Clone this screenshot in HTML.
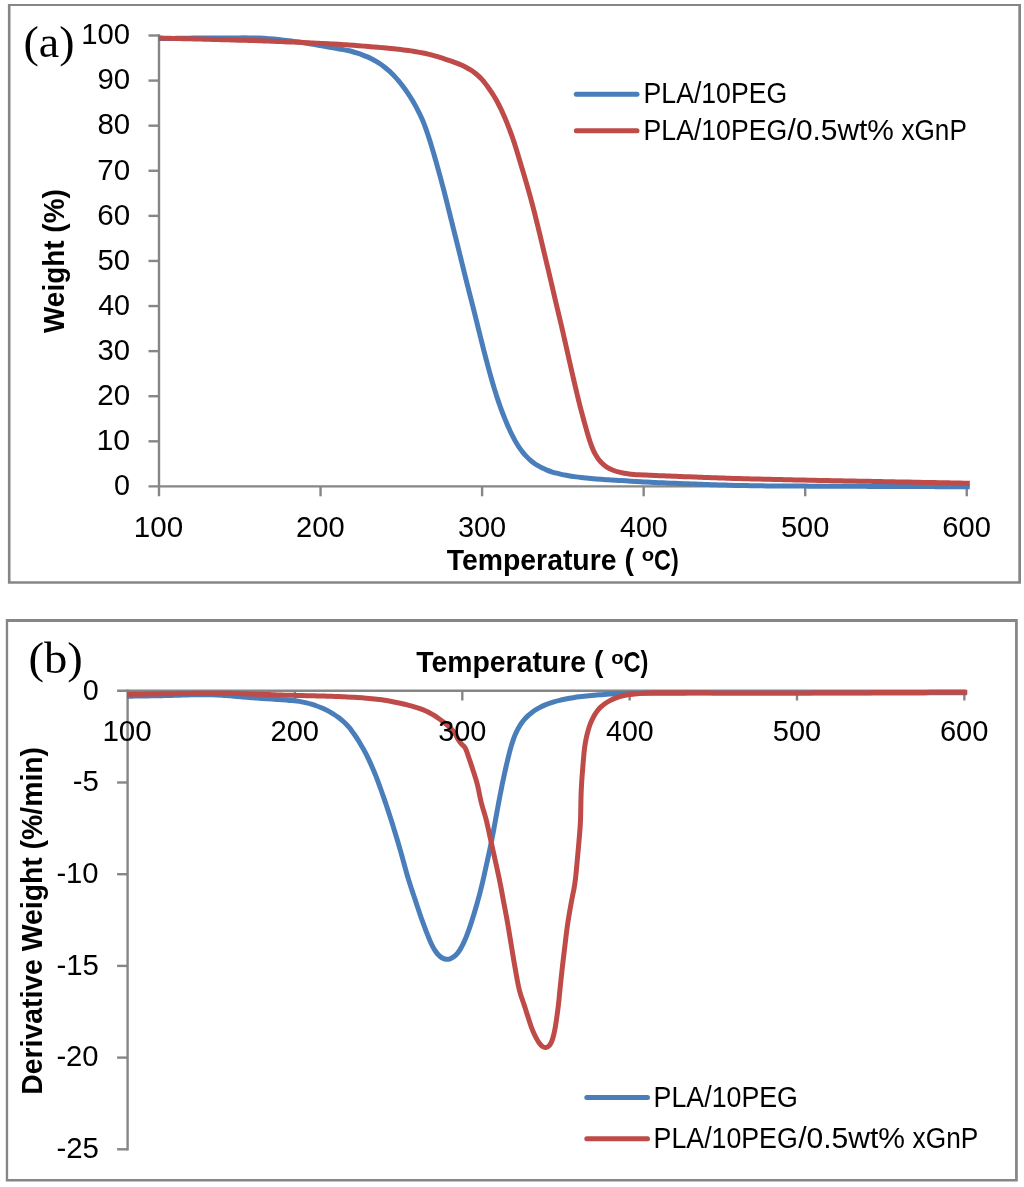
<!DOCTYPE html>
<html lang="en"><head><meta charset="utf-8"><title>TGA / DTG curves</title>
<style>html,body{margin:0;padding:0;background:#fff}body{width:1024px;height:1187px;overflow:hidden;font-family:"Liberation Sans",sans-serif}svg{display:block;will-change:transform;transform:translateZ(0)}text{fill:#000}</style></head><body>
<svg width="1024" height="1187" viewBox="0 0 1024 1187">
<rect x="0" y="0" width="1024" height="1187" fill="#fff"/>
<!-- chart (a) -->
<path fill="#868686" d="M7.9 4H1021V583.75H7.9Z M10.5 5.95V581.25H1018.3V5.95Z" fill-rule="evenodd"/>
<g stroke="#868686" stroke-width="2.4" fill="none">
<path d="M159.00 34.30 V496.30"/>
<path d="M148.50 486.40 H967.80"/>
<path d="M148.50 441.31 H159.00"/>
<path d="M148.50 396.22 H159.00"/>
<path d="M148.50 351.13 H159.00"/>
<path d="M148.50 306.04 H159.00"/>
<path d="M148.50 260.95 H159.00"/>
<path d="M148.50 215.86 H159.00"/>
<path d="M148.50 170.77 H159.00"/>
<path d="M148.50 125.68 H159.00"/>
<path d="M148.50 80.59 H159.00"/>
<path d="M148.50 35.50 H159.00"/>
<path d="M320.55 486.40 V496.30"/>
<path d="M482.10 486.40 V496.30"/>
<path d="M643.65 486.40 V496.30"/>
<path d="M805.20 486.40 V496.30"/>
<path d="M966.75 486.40 V496.30"/>
</g>
<path d="M158.80 38.60 C159.63 38.59 162.13 38.57 163.80 38.55 C165.47 38.54 167.13 38.52 168.80 38.49 C170.47 38.47 172.13 38.45 173.80 38.42 C175.47 38.39 177.13 38.36 178.80 38.32 C180.46 38.29 182.13 38.26 183.80 38.23 C185.46 38.20 187.13 38.17 188.80 38.14 C190.46 38.11 192.13 38.09 193.80 38.07 C195.46 38.05 197.13 38.03 198.80 38.01 C200.46 38.00 202.13 37.99 203.79 37.98 C205.46 37.97 207.13 37.96 208.79 37.95 C210.46 37.94 212.13 37.94 213.79 37.93 C215.46 37.92 217.13 37.92 218.79 37.92 C220.46 37.91 222.13 37.91 223.79 37.91 C225.46 37.90 227.13 37.90 228.79 37.90 C230.46 37.89 232.13 37.89 233.80 37.89 C235.46 37.88 237.13 37.88 238.80 37.88 C240.46 37.87 242.13 37.87 243.80 37.87 C245.46 37.87 247.13 37.87 248.80 37.88 C250.46 37.89 252.13 37.91 253.80 37.94 C255.46 37.97 257.13 38.01 258.79 38.07 C260.46 38.14 262.12 38.22 263.78 38.32 C265.45 38.42 267.11 38.54 268.77 38.67 C270.43 38.80 272.09 38.95 273.75 39.10 C275.41 39.26 277.07 39.43 278.73 39.60 C280.38 39.78 282.04 39.96 283.70 40.15 C285.35 40.34 287.01 40.54 288.66 40.75 C290.31 40.95 291.97 41.17 293.62 41.39 C295.27 41.62 296.92 41.85 298.57 42.09 C300.22 42.33 301.87 42.57 303.52 42.82 C305.16 43.07 306.81 43.33 308.46 43.59 C310.10 43.85 311.75 44.12 313.39 44.39 C315.04 44.67 316.68 44.95 318.32 45.23 C319.96 45.51 321.60 45.80 323.25 46.09 C324.89 46.38 326.53 46.68 328.17 46.97 C329.81 47.27 331.45 47.56 333.09 47.85 C334.74 48.13 336.38 48.41 338.02 48.70 C339.66 48.99 341.31 49.27 342.95 49.58 C344.58 49.89 346.22 50.20 347.84 50.56 C349.47 50.92 351.09 51.31 352.70 51.74 C354.30 52.17 355.90 52.64 357.49 53.15 C359.07 53.66 360.65 54.21 362.21 54.80 C363.77 55.38 365.32 56.00 366.85 56.66 C368.38 57.32 369.89 58.02 371.38 58.77 C372.87 59.51 374.34 60.30 375.77 61.14 C377.21 61.98 378.61 62.87 379.99 63.80 C381.37 64.74 382.71 65.72 384.03 66.74 C385.35 67.76 386.63 68.82 387.89 69.92 C389.14 71.01 390.37 72.15 391.57 73.30 C392.76 74.46 393.93 75.65 395.07 76.87 C396.21 78.09 397.32 79.33 398.40 80.60 C399.48 81.87 400.53 83.17 401.55 84.48 C402.58 85.79 403.58 87.13 404.55 88.48 C405.53 89.83 406.48 91.20 407.42 92.58 C408.35 93.96 409.26 95.36 410.15 96.77 C411.04 98.18 411.91 99.60 412.76 101.04 C413.61 102.47 414.44 103.92 415.25 105.37 C416.06 106.83 416.85 108.30 417.62 109.78 C418.38 111.26 419.13 112.75 419.85 114.25 C420.57 115.76 421.26 117.27 421.93 118.80 C422.60 120.32 423.24 121.86 423.85 123.41 C424.47 124.96 425.05 126.52 425.62 128.08 C426.19 129.65 426.73 131.23 427.26 132.80 C427.79 134.38 428.31 135.97 428.82 137.56 C429.33 139.14 429.83 140.73 430.33 142.33 C430.82 143.92 431.31 145.51 431.80 147.11 C432.28 148.70 432.76 150.30 433.23 151.90 C433.70 153.49 434.17 155.10 434.63 156.70 C435.09 158.30 435.55 159.90 436.00 161.51 C436.45 163.11 436.90 164.71 437.35 166.32 C437.79 167.93 438.24 169.53 438.68 171.14 C439.12 172.75 439.56 174.35 440.00 175.96 C440.44 177.57 440.87 179.18 441.30 180.79 C441.74 182.40 442.17 184.01 442.59 185.62 C443.02 187.23 443.44 188.84 443.86 190.46 C444.28 192.07 444.70 193.68 445.11 195.30 C445.52 196.91 445.93 198.53 446.34 200.15 C446.74 201.76 447.14 203.38 447.55 205.00 C447.95 206.61 448.35 208.23 448.75 209.85 C449.15 211.47 449.54 213.09 449.94 214.70 C450.34 216.32 450.75 217.94 451.15 219.56 C451.55 221.18 451.95 222.79 452.36 224.41 C452.76 226.03 453.16 227.64 453.57 229.26 C453.97 230.88 454.38 232.49 454.78 234.11 C455.19 235.73 455.59 237.34 456.00 238.96 C456.40 240.58 456.81 242.19 457.21 243.81 C457.61 245.43 458.01 247.05 458.41 248.66 C458.82 250.28 459.21 251.90 459.61 253.52 C460.01 255.14 460.41 256.76 460.80 258.37 C461.20 259.99 461.60 261.61 461.99 263.23 C462.39 264.85 462.78 266.47 463.18 268.09 C463.58 269.71 463.97 271.33 464.38 272.94 C464.78 274.56 465.18 276.18 465.58 277.80 C465.99 279.41 466.39 281.03 466.80 282.64 C467.21 284.26 467.62 285.87 468.04 287.49 C468.45 289.10 468.86 290.72 469.27 292.33 C469.69 293.95 470.10 295.56 470.51 297.18 C470.92 298.79 471.34 300.41 471.75 302.02 C472.16 303.64 472.56 305.25 472.97 306.87 C473.38 308.49 473.78 310.10 474.19 311.72 C474.59 313.34 475.00 314.95 475.40 316.57 C475.80 318.19 476.21 319.81 476.61 321.42 C477.01 323.04 477.41 324.66 477.81 326.28 C478.21 327.89 478.61 329.51 479.01 331.13 C479.42 332.75 479.81 334.37 480.21 335.98 C480.62 337.60 481.02 339.22 481.42 340.84 C481.82 342.45 482.22 344.07 482.63 345.69 C483.04 347.30 483.44 348.92 483.86 350.53 C484.27 352.15 484.68 353.76 485.10 355.38 C485.52 356.99 485.94 358.60 486.36 360.22 C486.78 361.83 487.21 363.44 487.64 365.05 C488.07 366.66 488.51 368.27 488.94 369.88 C489.38 371.48 489.82 373.09 490.27 374.70 C490.72 376.30 491.17 377.91 491.63 379.51 C492.09 381.11 492.56 382.71 493.03 384.31 C493.51 385.91 493.98 387.50 494.47 389.10 C494.96 390.69 495.45 392.28 495.96 393.87 C496.46 395.46 496.97 397.05 497.49 398.63 C498.01 400.21 498.54 401.79 499.09 403.37 C499.63 404.94 500.19 406.52 500.75 408.08 C501.32 409.65 501.90 411.21 502.50 412.77 C503.09 414.33 503.69 415.88 504.31 417.43 C504.93 418.98 505.56 420.52 506.20 422.06 C506.85 423.60 507.50 425.13 508.17 426.66 C508.85 428.18 509.53 429.71 510.24 431.21 C510.95 432.72 511.67 434.23 512.43 435.71 C513.18 437.20 513.96 438.68 514.78 440.13 C515.59 441.59 516.43 443.03 517.31 444.45 C518.19 445.86 519.10 447.26 520.06 448.62 C521.02 449.98 522.02 451.32 523.07 452.61 C524.12 453.90 525.22 455.16 526.37 456.36 C527.51 457.56 528.71 458.72 529.96 459.82 C531.21 460.91 532.51 461.96 533.84 462.95 C535.18 463.93 536.57 464.86 537.99 465.71 C539.41 466.57 540.87 467.37 542.36 468.10 C543.85 468.83 545.38 469.50 546.93 470.11 C548.48 470.72 550.05 471.27 551.64 471.78 C553.23 472.29 554.83 472.74 556.45 473.16 C558.06 473.59 559.69 473.97 561.31 474.33 C562.94 474.69 564.58 475.02 566.22 475.33 C567.86 475.63 569.50 475.91 571.15 476.17 C572.80 476.43 574.45 476.66 576.10 476.88 C577.75 477.10 579.41 477.30 581.07 477.48 C582.72 477.67 584.38 477.84 586.04 478.01 C587.70 478.18 589.36 478.33 591.02 478.48 C592.68 478.64 594.34 478.78 596.00 478.92 C597.66 479.06 599.32 479.19 600.98 479.31 C602.65 479.44 604.31 479.55 605.97 479.66 C607.63 479.77 609.30 479.87 610.96 479.97 C612.63 480.07 614.29 480.16 615.95 480.26 C617.62 480.35 619.28 480.44 620.95 480.54 C622.61 480.64 624.27 480.73 625.94 480.84 C627.60 480.94 629.26 481.04 630.93 481.14 C632.59 481.25 634.25 481.35 635.92 481.46 C637.58 481.56 639.24 481.66 640.91 481.76 C642.57 481.85 644.24 481.95 645.90 482.04 C647.57 482.12 649.23 482.21 650.89 482.29 C652.56 482.37 654.22 482.45 655.89 482.52 C657.55 482.60 659.22 482.67 660.88 482.74 C662.55 482.81 664.21 482.88 665.88 482.95 C667.54 483.02 669.21 483.09 670.88 483.16 C672.54 483.23 674.21 483.29 675.87 483.36 C677.54 483.43 679.20 483.49 680.87 483.56 C682.53 483.62 684.20 483.68 685.86 483.75 C687.53 483.81 689.19 483.87 690.86 483.93 C692.53 483.99 694.19 484.05 695.86 484.11 C697.52 484.17 699.19 484.22 700.85 484.28 C702.52 484.34 704.19 484.40 705.85 484.46 C707.52 484.51 709.18 484.57 710.85 484.63 C712.51 484.69 714.18 484.74 715.85 484.80 C717.51 484.86 719.18 484.91 720.84 484.97 C722.51 485.02 724.17 485.07 725.84 485.12 C727.51 485.17 729.17 485.22 730.84 485.27 C732.50 485.31 734.17 485.35 735.84 485.39 C737.50 485.43 739.17 485.47 740.84 485.51 C742.50 485.54 744.17 485.57 745.83 485.60 C747.50 485.63 749.17 485.66 750.83 485.69 C752.50 485.71 754.17 485.74 755.83 485.76 C757.50 485.78 759.17 485.80 760.83 485.82 C762.50 485.84 764.17 485.86 765.83 485.88 C767.50 485.89 769.17 485.91 770.83 485.92 C772.50 485.94 774.17 485.95 775.83 485.96 C777.50 485.97 779.17 485.98 780.83 486.00 C782.50 486.01 784.17 486.02 785.83 486.03 C787.50 486.04 789.16 486.04 790.83 486.05 C792.50 486.06 794.16 486.07 795.83 486.08 C797.50 486.09 799.16 486.09 800.83 486.10 C802.50 486.11 804.16 486.12 805.83 486.12 C807.50 486.13 809.16 486.14 810.83 486.14 C812.50 486.15 814.16 486.16 815.83 486.16 C817.50 486.17 819.16 486.18 820.83 486.18 C822.50 486.19 824.16 486.19 825.83 486.20 C827.50 486.21 829.16 486.21 830.83 486.22 C832.50 486.23 834.16 486.23 835.83 486.24 C837.50 486.25 839.16 486.25 840.83 486.26 C842.50 486.27 844.16 486.27 845.83 486.28 C847.50 486.29 849.16 486.30 850.83 486.30 C852.50 486.31 854.16 486.32 855.83 486.33 C857.50 486.33 859.16 486.34 860.83 486.35 C862.50 486.35 864.16 486.36 865.83 486.37 C867.50 486.38 869.16 486.38 870.83 486.39 C872.50 486.40 874.16 486.40 875.83 486.41 C877.50 486.42 879.16 486.42 880.83 486.43 C882.50 486.44 884.16 486.44 885.83 486.45 C887.50 486.46 889.16 486.46 890.83 486.47 C892.50 486.47 894.16 486.48 895.83 486.49 C897.50 486.49 899.16 486.50 900.83 486.50 C902.50 486.51 904.16 486.52 905.83 486.52 C907.50 486.53 909.16 486.54 910.83 486.54 C912.50 486.55 914.16 486.55 915.83 486.56 C917.50 486.57 919.16 486.57 920.83 486.58 C922.50 486.58 924.16 486.59 925.83 486.59 C927.50 486.60 929.16 486.61 930.83 486.61 C932.50 486.62 934.16 486.62 935.83 486.63 C937.50 486.64 939.16 486.64 940.83 486.65 C942.50 486.65 944.16 486.66 945.83 486.66 C947.50 486.67 949.16 486.68 950.83 486.68 C952.50 486.69 954.16 486.69 955.83 486.70 C957.50 486.71 959.16 486.71 960.83 486.72 C962.50 486.72 964.34 486.73 965.83 486.74 C967.33 486.74 969.14 486.75 969.80 486.75" fill="none" stroke="#4a7ebb" stroke-width="5.0" stroke-linejoin="round" stroke-linecap="butt"/>
<path d="M158.80 38.00 C159.63 38.02 162.13 38.08 163.80 38.13 C165.46 38.17 167.13 38.21 168.80 38.25 C170.46 38.30 172.13 38.34 173.80 38.38 C175.46 38.42 177.13 38.47 178.79 38.51 C180.46 38.55 182.13 38.59 183.79 38.64 C185.46 38.68 187.12 38.72 188.79 38.77 C190.46 38.81 192.12 38.86 193.79 38.90 C195.45 38.94 197.12 38.99 198.79 39.03 C200.45 39.08 202.12 39.12 203.78 39.17 C205.45 39.21 207.12 39.26 208.78 39.30 C210.45 39.35 212.12 39.39 213.78 39.44 C215.45 39.48 217.11 39.53 218.78 39.58 C220.45 39.62 222.11 39.67 223.78 39.71 C225.44 39.76 227.11 39.81 228.78 39.86 C230.44 39.90 232.11 39.95 233.77 40.00 C235.44 40.04 237.11 40.09 238.77 40.14 C240.44 40.18 242.10 40.23 243.77 40.28 C245.44 40.33 247.10 40.38 248.77 40.43 C250.43 40.48 252.10 40.54 253.76 40.59 C255.43 40.64 257.10 40.70 258.76 40.76 C260.43 40.81 262.09 40.87 263.76 40.93 C265.42 40.99 267.09 41.05 268.76 41.11 C270.42 41.17 272.09 41.23 273.75 41.29 C275.42 41.36 277.08 41.42 278.75 41.49 C280.41 41.55 282.08 41.62 283.74 41.68 C285.41 41.75 287.08 41.82 288.74 41.89 C290.41 41.96 292.07 42.04 293.74 42.11 C295.40 42.19 297.07 42.26 298.73 42.34 C300.40 42.42 302.06 42.50 303.72 42.57 C305.39 42.65 307.05 42.73 308.72 42.81 C310.38 42.89 312.05 42.97 313.71 43.05 C315.38 43.13 317.04 43.21 318.71 43.29 C320.37 43.37 322.04 43.46 323.70 43.54 C325.37 43.63 327.03 43.71 328.69 43.80 C330.36 43.89 332.02 43.98 333.69 44.07 C335.35 44.17 337.01 44.26 338.68 44.36 C340.34 44.46 342.01 44.57 343.67 44.68 C345.33 44.78 347.00 44.89 348.66 45.01 C350.32 45.12 351.98 45.24 353.65 45.36 C355.31 45.48 356.97 45.61 358.63 45.74 C360.29 45.86 361.95 45.99 363.62 46.12 C365.28 46.26 366.94 46.39 368.60 46.53 C370.26 46.66 371.92 46.80 373.58 46.94 C375.24 47.08 376.90 47.23 378.56 47.38 C380.22 47.52 381.88 47.67 383.54 47.83 C385.20 47.98 386.86 48.13 388.52 48.30 C390.18 48.46 391.84 48.62 393.50 48.79 C395.15 48.96 396.81 49.14 398.47 49.32 C400.13 49.51 401.78 49.70 403.44 49.90 C405.09 50.10 406.74 50.31 408.39 50.54 C410.05 50.77 411.70 51.01 413.34 51.27 C414.99 51.53 416.63 51.80 418.27 52.10 C419.91 52.40 421.55 52.71 423.18 53.05 C424.81 53.39 426.44 53.75 428.06 54.14 C429.68 54.52 431.30 54.93 432.91 55.36 C434.51 55.80 436.12 56.25 437.71 56.73 C439.31 57.20 440.90 57.70 442.49 58.21 C444.08 58.72 445.66 59.24 447.24 59.77 C448.82 60.30 450.40 60.84 451.97 61.40 C453.54 61.96 455.11 62.53 456.67 63.14 C458.22 63.74 459.77 64.36 461.29 65.04 C462.82 65.71 464.33 66.42 465.81 67.19 C467.28 67.95 468.74 68.77 470.15 69.65 C471.56 70.53 472.95 71.46 474.27 72.46 C475.60 73.46 476.89 74.52 478.13 75.63 C479.36 76.75 480.54 77.92 481.67 79.14 C482.80 80.36 483.87 81.64 484.91 82.94 C485.96 84.24 486.95 85.58 487.92 86.94 C488.90 88.29 489.84 89.67 490.76 91.06 C491.69 92.45 492.59 93.85 493.46 95.27 C494.33 96.69 495.18 98.13 496.00 99.58 C496.82 101.03 497.61 102.50 498.38 103.98 C499.15 105.45 499.89 106.95 500.61 108.45 C501.33 109.95 502.04 111.46 502.72 112.98 C503.41 114.50 504.08 116.03 504.73 117.56 C505.39 119.09 506.02 120.63 506.65 122.18 C507.28 123.72 507.89 125.27 508.49 126.83 C509.09 128.38 509.68 129.94 510.26 131.50 C510.85 133.06 511.42 134.63 511.98 136.20 C512.53 137.77 513.09 139.34 513.62 140.92 C514.16 142.50 514.68 144.08 515.19 145.67 C515.70 147.25 516.20 148.85 516.68 150.44 C517.17 152.03 517.64 153.63 518.12 155.23 C518.59 156.83 519.06 158.43 519.53 160.02 C520.01 161.62 520.49 163.22 520.96 164.82 C521.44 166.41 521.93 168.01 522.41 169.60 C522.89 171.20 523.37 172.79 523.85 174.39 C524.33 175.99 524.80 177.58 525.28 179.18 C525.75 180.78 526.21 182.38 526.68 183.98 C527.14 185.58 527.60 187.19 528.06 188.79 C528.51 190.39 528.96 192.00 529.41 193.60 C529.86 195.21 530.30 196.81 530.74 198.42 C531.17 200.03 531.61 201.64 532.03 203.25 C532.46 204.86 532.88 206.47 533.30 208.09 C533.72 209.70 534.13 211.32 534.54 212.93 C534.95 214.55 535.35 216.16 535.75 217.78 C536.16 219.40 536.56 221.02 536.95 222.64 C537.35 224.25 537.75 225.87 538.14 227.49 C538.54 229.11 538.93 230.73 539.32 232.35 C539.71 233.97 540.10 235.59 540.49 237.21 C540.87 238.84 541.26 240.46 541.64 242.08 C542.03 243.70 542.41 245.32 542.80 246.94 C543.18 248.57 543.56 250.19 543.95 251.81 C544.33 253.43 544.72 255.05 545.10 256.67 C545.49 258.30 545.88 259.92 546.26 261.54 C546.65 263.16 547.04 264.78 547.42 266.40 C547.81 268.02 548.20 269.64 548.58 271.26 C548.97 272.89 549.36 274.51 549.74 276.13 C550.13 277.75 550.51 279.37 550.89 280.99 C551.27 282.62 551.65 284.24 552.03 285.86 C552.41 287.49 552.78 289.11 553.16 290.73 C553.54 292.36 553.91 293.98 554.28 295.61 C554.66 297.23 555.04 298.85 555.42 300.48 C555.80 302.10 556.18 303.72 556.56 305.34 C556.95 306.96 557.34 308.59 557.72 310.21 C558.11 311.83 558.50 313.45 558.89 315.07 C559.28 316.69 559.67 318.31 560.05 319.93 C560.44 321.55 560.82 323.18 561.20 324.80 C561.58 326.42 561.95 328.05 562.32 329.67 C562.70 331.29 563.07 332.92 563.44 334.54 C563.81 336.17 564.18 337.79 564.54 339.42 C564.91 341.05 565.28 342.67 565.65 344.30 C566.01 345.92 566.38 347.55 566.75 349.17 C567.12 350.80 567.48 352.43 567.85 354.05 C568.22 355.68 568.59 357.30 568.95 358.93 C569.32 360.55 569.69 362.18 570.05 363.81 C570.42 365.43 570.79 367.06 571.16 368.68 C571.53 370.31 571.90 371.93 572.27 373.56 C572.64 375.18 573.01 376.81 573.39 378.43 C573.76 380.05 574.14 381.68 574.52 383.30 C574.90 384.92 575.28 386.55 575.67 388.17 C576.05 389.79 576.43 391.41 576.82 393.03 C577.21 394.65 577.60 396.27 577.99 397.89 C578.39 399.51 578.79 401.13 579.19 402.75 C579.59 404.36 580.00 405.98 580.42 407.59 C580.83 409.21 581.26 410.82 581.69 412.43 C582.11 414.04 582.55 415.65 582.98 417.26 C583.42 418.87 583.86 420.48 584.30 422.08 C584.74 423.69 585.19 425.30 585.64 426.90 C586.09 428.51 586.54 430.11 587.00 431.71 C587.46 433.32 587.93 434.92 588.42 436.51 C588.90 438.11 589.40 439.70 589.92 441.29 C590.45 442.87 590.98 444.45 591.58 446.01 C592.17 447.57 592.79 449.13 593.48 450.64 C594.18 452.16 594.92 453.66 595.76 455.10 C596.59 456.54 597.49 457.95 598.49 459.27 C599.50 460.59 600.59 461.85 601.77 463.01 C602.95 464.16 604.23 465.23 605.57 466.19 C606.92 467.14 608.36 468.00 609.83 468.76 C611.31 469.51 612.85 470.16 614.41 470.74 C615.97 471.31 617.58 471.78 619.19 472.20 C620.81 472.61 622.45 472.94 624.09 473.22 C625.73 473.51 627.39 473.73 629.05 473.92 C630.71 474.12 632.37 474.26 634.03 474.40 C635.69 474.53 637.36 474.63 639.02 474.73 C640.69 474.83 642.36 474.91 644.02 474.99 C645.69 475.07 647.35 475.15 649.02 475.22 C650.68 475.29 652.35 475.37 654.01 475.44 C655.68 475.51 657.34 475.58 659.01 475.65 C660.67 475.72 662.34 475.79 664.00 475.86 C665.67 475.93 667.33 476.00 669.00 476.07 C670.66 476.13 672.33 476.20 674.00 476.27 C675.66 476.33 677.33 476.40 678.99 476.46 C680.66 476.53 682.32 476.59 683.99 476.66 C685.65 476.72 687.32 476.78 688.98 476.85 C690.65 476.91 692.32 476.97 693.98 477.03 C695.65 477.09 697.31 477.15 698.98 477.21 C700.64 477.27 702.31 477.33 703.97 477.39 C705.64 477.45 707.31 477.51 708.97 477.57 C710.64 477.63 712.30 477.69 713.97 477.75 C715.63 477.81 717.30 477.87 718.96 477.93 C720.63 477.99 722.30 478.04 723.96 478.10 C725.63 478.16 727.29 478.21 728.96 478.26 C730.62 478.32 732.29 478.37 733.96 478.42 C735.62 478.47 737.29 478.52 738.95 478.57 C740.62 478.62 742.29 478.66 743.95 478.71 C745.62 478.76 747.28 478.80 748.95 478.84 C750.62 478.89 752.28 478.93 753.95 478.97 C755.61 479.02 757.28 479.06 758.95 479.10 C760.61 479.14 762.28 479.18 763.95 479.22 C765.61 479.26 767.28 479.29 768.94 479.33 C770.61 479.37 772.28 479.41 773.94 479.45 C775.61 479.48 777.28 479.52 778.94 479.56 C780.61 479.59 782.27 479.63 783.94 479.66 C785.61 479.70 787.27 479.73 788.94 479.77 C790.61 479.81 792.27 479.84 793.94 479.88 C795.60 479.91 797.27 479.94 798.94 479.98 C800.60 480.01 802.27 480.05 803.94 480.08 C805.60 480.12 807.27 480.15 808.94 480.18 C810.60 480.22 812.27 480.25 813.93 480.28 C815.60 480.32 817.27 480.35 818.93 480.38 C820.60 480.42 822.27 480.45 823.93 480.48 C825.60 480.52 827.27 480.55 828.93 480.58 C830.60 480.62 832.26 480.65 833.93 480.68 C835.60 480.72 837.26 480.75 838.93 480.78 C840.60 480.81 842.26 480.85 843.93 480.88 C845.59 480.91 847.26 480.95 848.93 480.98 C850.59 481.01 852.26 481.04 853.93 481.08 C855.59 481.11 857.26 481.14 858.93 481.17 C860.59 481.21 862.26 481.24 863.92 481.27 C865.59 481.30 867.26 481.34 868.92 481.37 C870.59 481.40 872.26 481.43 873.92 481.46 C875.59 481.49 877.26 481.53 878.92 481.56 C880.59 481.59 882.25 481.62 883.92 481.65 C885.59 481.68 887.25 481.72 888.92 481.75 C890.59 481.78 892.25 481.81 893.92 481.84 C895.59 481.87 897.25 481.90 898.92 481.93 C900.58 481.97 902.25 482.00 903.92 482.03 C905.58 482.06 907.25 482.09 908.92 482.12 C910.58 482.15 912.25 482.18 913.92 482.21 C915.58 482.25 917.25 482.28 918.91 482.31 C920.58 482.34 922.25 482.37 923.91 482.40 C925.58 482.43 927.25 482.46 928.91 482.49 C930.58 482.52 932.25 482.55 933.91 482.59 C935.58 482.62 937.25 482.65 938.91 482.68 C940.58 482.71 942.24 482.74 943.91 482.77 C945.58 482.80 947.24 482.83 948.91 482.86 C950.58 482.89 952.24 482.92 953.91 482.95 C955.58 482.99 957.24 483.02 958.91 483.05 C960.57 483.08 962.09 483.11 963.91 483.14 C965.72 483.17 968.82 483.23 969.80 483.25" fill="none" stroke="#be4b48" stroke-width="5.0" stroke-linejoin="round" stroke-linecap="butt"/>
<text x="114.05" y="495.20" font-family="'Liberation Sans', sans-serif" font-size="29.90px" font-weight="normal" text-anchor="start" textLength="15.99" lengthAdjust="spacingAndGlyphs">0</text>
<text x="96.43" y="450.11" font-family="'Liberation Sans', sans-serif" font-size="29.90px" font-weight="normal" text-anchor="start" textLength="33.70" lengthAdjust="spacingAndGlyphs">10</text>
<text x="97.22" y="405.02" font-family="'Liberation Sans', sans-serif" font-size="29.90px" font-weight="normal" text-anchor="start" textLength="32.88" lengthAdjust="spacingAndGlyphs">20</text>
<text x="97.53" y="359.93" font-family="'Liberation Sans', sans-serif" font-size="29.90px" font-weight="normal" text-anchor="start" textLength="32.56" lengthAdjust="spacingAndGlyphs">30</text>
<text x="98.13" y="314.84" font-family="'Liberation Sans', sans-serif" font-size="29.90px" font-weight="normal" text-anchor="start" textLength="31.95" lengthAdjust="spacingAndGlyphs">40</text>
<text x="97.53" y="269.75" font-family="'Liberation Sans', sans-serif" font-size="29.90px" font-weight="normal" text-anchor="start" textLength="32.56" lengthAdjust="spacingAndGlyphs">50</text>
<text x="97.22" y="224.66" font-family="'Liberation Sans', sans-serif" font-size="29.90px" font-weight="normal" text-anchor="start" textLength="32.88" lengthAdjust="spacingAndGlyphs">60</text>
<text x="97.22" y="179.57" font-family="'Liberation Sans', sans-serif" font-size="29.90px" font-weight="normal" text-anchor="start" textLength="32.88" lengthAdjust="spacingAndGlyphs">70</text>
<text x="97.38" y="134.48" font-family="'Liberation Sans', sans-serif" font-size="29.90px" font-weight="normal" text-anchor="start" textLength="32.72" lengthAdjust="spacingAndGlyphs">80</text>
<text x="97.38" y="89.39" font-family="'Liberation Sans', sans-serif" font-size="29.90px" font-weight="normal" text-anchor="start" textLength="32.72" lengthAdjust="spacingAndGlyphs">90</text>
<text x="81.31" y="44.30" font-family="'Liberation Sans', sans-serif" font-size="29.90px" font-weight="normal" text-anchor="start" textLength="48.82" lengthAdjust="spacingAndGlyphs">100</text>
<text x="133.78" y="536.50" font-family="'Liberation Sans', sans-serif" font-size="29.90px" font-weight="normal" text-anchor="start" textLength="49.36" lengthAdjust="spacingAndGlyphs">100</text>
<text x="296.09" y="536.50" font-family="'Liberation Sans', sans-serif" font-size="29.90px" font-weight="normal" text-anchor="start" textLength="48.58" lengthAdjust="spacingAndGlyphs">200</text>
<text x="457.94" y="536.50" font-family="'Liberation Sans', sans-serif" font-size="29.90px" font-weight="normal" text-anchor="start" textLength="48.27" lengthAdjust="spacingAndGlyphs">300</text>
<text x="620.08" y="536.50" font-family="'Liberation Sans', sans-serif" font-size="29.90px" font-weight="normal" text-anchor="start" textLength="47.67" lengthAdjust="spacingAndGlyphs">400</text>
<text x="781.04" y="536.50" font-family="'Liberation Sans', sans-serif" font-size="29.90px" font-weight="normal" text-anchor="start" textLength="48.27" lengthAdjust="spacingAndGlyphs">500</text>
<text x="942.29" y="536.50" font-family="'Liberation Sans', sans-serif" font-size="29.90px" font-weight="normal" text-anchor="start" textLength="48.58" lengthAdjust="spacingAndGlyphs">600</text>
<text x="446.72" y="569.70" font-family="'Liberation Sans', sans-serif" font-size="29.80px" font-weight="bold" text-anchor="start" textLength="187.16" lengthAdjust="spacingAndGlyphs">Temperature (</text>
<text x="641.69" y="561.20" font-family="'Liberation Sans', sans-serif" font-size="19.00px" font-weight="bold" text-anchor="start" textLength="12.39" lengthAdjust="spacingAndGlyphs">o</text>
<text x="654.07" y="569.70" font-family="'Liberation Sans', sans-serif" font-size="29.80px" font-weight="bold" text-anchor="start" textLength="24.60" lengthAdjust="spacingAndGlyphs">C)</text>
<g transform="translate(64.3 333.0) rotate(-90)"><text x="0.00" y="0.00" font-family="'Liberation Sans', sans-serif" font-size="29.80px" font-weight="bold" text-anchor="start" textLength="143.83" lengthAdjust="spacingAndGlyphs">Weight (%)</text></g>
<text x="23.53" y="56.50" font-family="'Liberation Serif', sans-serif" font-size="44.50px" font-weight="normal" text-anchor="start" textLength="51.03" lengthAdjust="spacingAndGlyphs">(a)</text>
<g fill="none" stroke-width="5" stroke-linecap="round">
<path d="M576.3 94.3 H637" stroke="#4a7ebb"/>
<path d="M576.3 130.8 H637" stroke="#be4b48"/>
</g>
<text x="643.62" y="103.30" font-family="'Liberation Sans', sans-serif" font-size="29.90px" font-weight="normal" text-anchor="start" textLength="143.50" lengthAdjust="spacingAndGlyphs">PLA/10PEG</text>
<text x="643.62" y="139.50" font-family="'Liberation Sans', sans-serif" font-size="29.90px" font-weight="normal" text-anchor="start" textLength="143.50" lengthAdjust="spacingAndGlyphs">PLA/10PEG</text>
<text x="787.60" y="139.50" font-family="'Liberation Sans', sans-serif" font-size="29.90px" font-weight="normal" text-anchor="start" textLength="106.36" lengthAdjust="spacingAndGlyphs">/0.5wt%</text>
<text x="901.49" y="139.50" font-family="'Liberation Sans', sans-serif" font-size="29.90px" font-weight="normal" text-anchor="start" textLength="65.34" lengthAdjust="spacingAndGlyphs">xGnP</text>
<!-- chart (b) -->
<path fill="#868686" d="M5.8 619.1H1017.8V1181.6H5.8Z M8.15 621.9V1178.9H1015.05V621.9Z" fill-rule="evenodd"/>
<g stroke="#868686" stroke-width="2.4" fill="none">
<path d="M127.60 689.60 V1150.50"/>
<path d="M117.10 690.80 H965.60"/>
<path d="M117.10 782.50 H127.60"/>
<path d="M117.10 874.20 H127.60"/>
<path d="M117.10 965.90 H127.60"/>
<path d="M117.10 1057.60 H127.60"/>
<path d="M117.10 1149.30 H127.60"/>
<path d="M294.95 690.80 V700.50"/>
<path d="M462.30 690.80 V700.50"/>
<path d="M629.65 690.80 V700.50"/>
<path d="M797.00 690.80 V700.50"/>
<path d="M964.35 690.80 V700.50"/>
</g>
<path d="M127.00 696.20 C127.83 696.19 130.33 696.16 132.00 696.13 C133.67 696.11 135.33 696.09 137.00 696.07 C138.67 696.04 140.33 696.02 142.00 696.00 C143.67 695.97 145.33 695.95 147.00 695.93 C148.66 695.90 150.33 695.87 152.00 695.85 C153.66 695.82 155.33 695.79 157.00 695.75 C158.66 695.72 160.33 695.68 162.00 695.65 C163.66 695.61 165.33 695.56 166.99 695.52 C168.66 695.48 170.33 695.43 171.99 695.38 C173.66 695.33 175.32 695.28 176.99 695.23 C178.66 695.19 180.32 695.14 181.99 695.09 C183.65 695.04 185.32 695.00 186.99 694.96 C188.65 694.92 190.32 694.88 191.99 694.85 C193.65 694.82 195.32 694.79 196.98 694.76 C198.65 694.74 200.32 694.72 201.98 694.71 C203.65 694.70 205.32 694.69 206.98 694.70 C208.65 694.71 210.32 694.73 211.98 694.76 C213.65 694.79 215.32 694.84 216.98 694.91 C218.65 694.97 220.31 695.06 221.97 695.16 C223.64 695.26 225.30 695.38 226.96 695.51 C228.62 695.64 230.28 695.80 231.94 695.95 C233.60 696.10 235.26 696.26 236.92 696.42 C238.58 696.57 240.24 696.73 241.90 696.89 C243.56 697.04 245.22 697.18 246.88 697.32 C248.54 697.46 250.20 697.59 251.86 697.72 C253.52 697.85 255.18 697.97 256.85 698.09 C258.51 698.21 260.17 698.32 261.83 698.44 C263.50 698.55 265.16 698.66 266.82 698.77 C268.49 698.89 270.15 699.00 271.81 699.10 C273.48 699.21 275.14 699.32 276.80 699.43 C278.47 699.53 280.13 699.64 281.80 699.75 C283.46 699.86 285.12 699.97 286.79 700.10 C288.45 700.23 290.11 700.35 291.77 700.52 C293.43 700.68 295.09 700.85 296.74 701.08 C298.39 701.30 300.04 701.55 301.67 701.85 C303.31 702.15 304.94 702.49 306.56 702.88 C308.18 703.27 309.79 703.70 311.38 704.18 C312.98 704.65 314.57 705.17 316.14 705.73 C317.70 706.29 319.26 706.89 320.80 707.53 C322.34 708.18 323.86 708.86 325.35 709.59 C326.85 710.33 328.32 711.10 329.78 711.92 C331.23 712.74 332.66 713.61 334.06 714.51 C335.46 715.41 336.84 716.36 338.18 717.35 C339.52 718.33 340.83 719.36 342.10 720.44 C343.36 721.51 344.59 722.64 345.76 723.81 C346.93 724.98 348.05 726.21 349.13 727.48 C350.20 728.74 351.22 730.06 352.22 731.39 C353.21 732.72 354.16 734.10 355.10 735.48 C356.03 736.86 356.94 738.27 357.83 739.68 C358.72 741.09 359.59 742.52 360.44 743.95 C361.30 745.38 362.13 746.83 362.95 748.28 C363.76 749.73 364.56 751.20 365.33 752.67 C366.11 754.15 366.86 755.64 367.59 757.13 C368.33 758.63 369.04 760.14 369.74 761.65 C370.44 763.16 371.12 764.68 371.79 766.21 C372.46 767.74 373.12 769.27 373.76 770.81 C374.40 772.34 375.03 773.89 375.65 775.44 C376.26 776.98 376.87 778.54 377.46 780.10 C378.05 781.65 378.63 783.22 379.20 784.78 C379.78 786.35 380.34 787.92 380.90 789.49 C381.45 791.06 382.00 792.63 382.55 794.21 C383.10 795.78 383.64 797.36 384.18 798.93 C384.72 800.51 385.26 802.09 385.80 803.66 C386.33 805.24 386.87 806.82 387.39 808.40 C387.92 809.98 388.45 811.57 388.96 813.15 C389.48 814.73 390.00 816.32 390.51 817.91 C391.01 819.49 391.52 821.08 392.02 822.67 C392.52 824.26 393.01 825.85 393.50 827.45 C393.99 829.04 394.48 830.63 394.96 832.23 C395.45 833.82 395.93 835.42 396.41 837.01 C396.89 838.61 397.37 840.21 397.84 841.81 C398.31 843.40 398.78 845.00 399.25 846.60 C399.71 848.20 400.18 849.80 400.64 851.41 C401.09 853.01 401.54 854.61 401.99 856.22 C402.44 857.83 402.87 859.43 403.31 861.04 C403.75 862.65 404.18 864.26 404.62 865.87 C405.06 867.48 405.49 869.09 405.94 870.69 C406.39 872.30 406.84 873.90 407.31 875.50 C407.77 877.10 408.26 878.69 408.75 880.29 C409.24 881.88 409.75 883.46 410.26 885.05 C410.77 886.64 411.29 888.22 411.82 889.80 C412.34 891.38 412.87 892.96 413.40 894.54 C413.93 896.12 414.46 897.70 414.99 899.29 C415.51 900.87 416.04 902.45 416.56 904.03 C417.09 905.61 417.61 907.20 418.13 908.78 C418.66 910.36 419.19 911.94 419.72 913.52 C420.26 915.10 420.81 916.67 421.36 918.24 C421.92 919.81 422.48 921.38 423.05 922.95 C423.62 924.52 424.21 926.08 424.79 927.64 C425.38 929.21 425.97 930.77 426.57 932.33 C427.18 933.90 427.78 935.46 428.42 937.02 C429.06 938.58 429.70 940.14 430.40 941.69 C431.09 943.24 431.81 944.79 432.61 946.30 C433.40 947.81 434.24 949.34 435.18 950.74 C436.12 952.14 437.14 953.55 438.26 954.71 C439.38 955.87 440.62 956.97 441.91 957.71 C443.20 958.46 444.61 959.00 446.00 959.18 C447.38 959.35 448.85 959.20 450.21 958.76 C451.58 958.33 452.94 957.52 454.17 956.58 C455.40 955.64 456.55 954.39 457.60 953.11 C458.65 951.83 459.59 950.36 460.47 948.90 C461.35 947.45 462.13 945.90 462.89 944.38 C463.64 942.85 464.32 941.29 464.99 939.73 C465.66 938.18 466.28 936.61 466.89 935.05 C467.50 933.48 468.08 931.91 468.65 930.34 C469.21 928.77 469.76 927.19 470.29 925.61 C470.83 924.03 471.35 922.44 471.86 920.86 C472.37 919.27 472.87 917.68 473.36 916.08 C473.85 914.49 474.33 912.89 474.80 911.30 C475.28 909.70 475.74 908.10 476.20 906.50 C476.66 904.89 477.12 903.29 477.57 901.68 C478.01 900.08 478.45 898.47 478.89 896.86 C479.32 895.25 479.75 893.64 480.16 892.03 C480.58 890.41 480.99 888.80 481.39 887.18 C481.78 885.56 482.17 883.94 482.55 882.32 C482.93 880.70 483.30 879.07 483.66 877.44 C484.03 875.82 484.39 874.19 484.75 872.56 C485.11 870.94 485.46 869.31 485.82 867.68 C486.18 866.05 486.53 864.42 486.89 862.80 C487.25 861.17 487.62 859.54 487.97 857.91 C488.33 856.29 488.70 854.66 489.05 853.03 C489.41 851.40 489.76 849.77 490.11 848.14 C490.45 846.51 490.79 844.88 491.12 843.25 C491.45 841.61 491.78 839.98 492.09 838.34 C492.41 836.71 492.72 835.07 493.02 833.43 C493.33 831.79 493.63 830.15 493.93 828.51 C494.23 826.87 494.52 825.23 494.82 823.59 C495.12 821.95 495.42 820.31 495.72 818.68 C496.02 817.04 496.32 815.40 496.62 813.76 C496.92 812.12 497.22 810.48 497.53 808.84 C497.83 807.20 498.14 805.56 498.44 803.92 C498.75 802.29 499.06 800.65 499.37 799.01 C499.68 797.37 499.99 795.74 500.30 794.10 C500.62 792.46 500.94 790.83 501.26 789.19 C501.58 787.56 501.91 785.92 502.24 784.29 C502.58 782.66 502.92 781.02 503.26 779.39 C503.60 777.76 503.95 776.13 504.31 774.50 C504.66 772.88 505.02 771.25 505.39 769.62 C505.75 768.00 506.12 766.37 506.50 764.75 C506.88 763.12 507.26 761.50 507.65 759.88 C508.04 758.26 508.43 756.64 508.84 755.02 C509.25 753.40 509.66 751.79 510.10 750.17 C510.53 748.56 510.98 746.95 511.45 745.35 C511.93 743.76 512.42 742.16 512.96 740.58 C513.50 739.00 514.07 737.43 514.69 735.89 C515.32 734.34 515.98 732.81 516.71 731.31 C517.43 729.82 518.21 728.34 519.06 726.91 C519.90 725.47 520.81 724.07 521.78 722.73 C522.75 721.38 523.79 720.08 524.89 718.84 C525.99 717.61 527.17 716.43 528.39 715.31 C529.62 714.20 530.92 713.15 532.25 712.16 C533.58 711.17 534.98 710.25 536.40 709.38 C537.82 708.52 539.28 707.71 540.77 706.96 C542.25 706.21 543.78 705.51 545.31 704.87 C546.85 704.22 548.41 703.63 549.98 703.09 C551.56 702.54 553.15 702.04 554.75 701.58 C556.35 701.12 557.97 700.70 559.59 700.31 C561.21 699.92 562.84 699.56 564.48 699.23 C566.11 698.89 567.75 698.58 569.39 698.30 C571.04 698.01 572.68 697.75 574.33 697.50 C575.98 697.26 577.63 697.04 579.29 696.83 C580.94 696.62 582.60 696.43 584.25 696.25 C585.91 696.06 587.57 695.89 589.23 695.73 C590.89 695.57 592.55 695.41 594.21 695.26 C595.87 695.11 597.53 694.97 599.19 694.83 C600.85 694.70 602.51 694.57 604.17 694.44 C605.84 694.32 607.50 694.20 609.16 694.10 C610.83 693.99 612.49 693.90 614.15 693.82 C615.82 693.73 617.48 693.66 619.15 693.60 C620.81 693.54 622.48 693.50 624.15 693.46 C625.81 693.42 627.48 693.39 629.14 693.37 C630.81 693.34 632.48 693.32 634.14 693.30 C635.81 693.29 637.48 693.27 639.14 693.26 C640.81 693.25 642.48 693.24 644.14 693.23 C645.81 693.22 647.48 693.21 649.14 693.20 C650.81 693.20 652.48 693.19 654.14 693.19 C655.81 693.18 657.48 693.18 659.14 693.17 C660.81 693.17 662.48 693.16 664.14 693.16 C665.81 693.16 667.48 693.15 669.14 693.15 C670.81 693.15 672.48 693.14 674.14 693.14 C675.81 693.14 677.48 693.14 679.14 693.13 C680.81 693.13 682.48 693.13 684.14 693.13 C685.81 693.12 687.48 693.12 689.14 693.12 C690.81 693.12 692.48 693.11 694.14 693.11 C695.81 693.11 697.48 693.10 699.14 693.10 C700.81 693.10 702.48 693.10 704.14 693.09 C705.81 693.09 707.48 693.09 709.14 693.09 C710.81 693.08 712.48 693.08 714.14 693.08 C715.81 693.08 717.48 693.08 719.14 693.07 C720.81 693.07 722.48 693.07 724.14 693.07 C725.81 693.07 727.48 693.07 729.14 693.07 C730.81 693.06 732.48 693.06 734.14 693.06 C735.81 693.06 737.48 693.06 739.14 693.06 C740.81 693.06 742.48 693.06 744.14 693.06 C745.81 693.06 747.48 693.05 749.14 693.05 C750.81 693.05 752.48 693.05 754.14 693.05 C755.81 693.05 757.48 693.05 759.14 693.05 C760.81 693.05 762.48 693.05 764.14 693.05 C765.81 693.05 767.48 693.05 769.14 693.04 C770.81 693.04 772.48 693.04 774.14 693.04 C775.81 693.04 777.48 693.04 779.14 693.04 C780.81 693.04 782.48 693.04 784.14 693.04 C785.81 693.04 787.48 693.04 789.14 693.04 C790.81 693.04 792.48 693.04 794.14 693.04 C795.81 693.03 797.48 693.03 799.14 693.03 C800.81 693.03 802.48 693.03 804.14 693.03 C805.81 693.03 807.48 693.03 809.14 693.03 C810.81 693.03 812.48 693.03 814.14 693.03 C815.81 693.03 817.48 693.03 819.14 693.02 C820.81 693.02 822.48 693.02 824.14 693.02 C825.81 693.02 827.48 693.02 829.14 693.02 C830.81 693.02 832.48 693.02 834.14 693.01 C835.81 693.01 837.48 693.01 839.14 693.01 C840.81 693.01 842.48 693.01 844.14 693.01 C845.81 693.00 847.48 693.00 849.14 693.00 C850.81 693.00 852.48 693.00 854.14 693.00 C855.81 692.99 857.48 692.99 859.14 692.99 C860.81 692.99 862.48 692.98 864.14 692.98 C865.81 692.98 867.48 692.98 869.14 692.98 C870.81 692.97 872.48 692.97 874.14 692.97 C875.81 692.97 877.48 692.96 879.14 692.96 C880.81 692.96 882.48 692.96 884.14 692.95 C885.81 692.95 887.48 692.95 889.14 692.94 C890.81 692.94 892.48 692.94 894.14 692.94 C895.81 692.93 897.48 692.93 899.14 692.93 C900.81 692.92 902.48 692.92 904.14 692.92 C905.81 692.92 907.48 692.91 909.14 692.91 C910.81 692.91 912.48 692.90 914.14 692.90 C915.81 692.90 917.48 692.89 919.14 692.89 C920.81 692.89 922.48 692.88 924.14 692.88 C925.81 692.88 927.48 692.88 929.14 692.87 C930.81 692.87 932.48 692.87 934.14 692.86 C935.81 692.86 937.48 692.86 939.14 692.85 C940.81 692.85 942.48 692.85 944.14 692.84 C945.81 692.84 947.48 692.84 949.14 692.83 C950.81 692.83 952.48 692.83 954.14 692.82 C955.81 692.82 957.03 692.82 959.14 692.81 C961.25 692.81 965.52 692.80 966.80 692.80" fill="none" stroke="#4a7ebb" stroke-width="5.0" stroke-linejoin="round" stroke-linecap="butt"/>
<path d="M127.00 694.40 C127.83 694.39 130.33 694.34 132.00 694.31 C133.67 694.29 135.33 694.26 137.00 694.23 C138.66 694.20 140.33 694.17 142.00 694.14 C143.66 694.11 145.33 694.08 147.00 694.05 C148.66 694.03 150.33 694.00 152.00 693.97 C153.66 693.94 155.33 693.92 157.00 693.89 C158.66 693.86 160.33 693.84 162.00 693.81 C163.66 693.79 165.33 693.76 166.99 693.74 C168.66 693.72 170.33 693.70 171.99 693.67 C173.66 693.65 175.33 693.63 176.99 693.60 C178.66 693.58 180.33 693.55 181.99 693.53 C183.66 693.50 185.33 693.48 186.99 693.45 C188.66 693.43 190.33 693.40 191.99 693.38 C193.66 693.36 195.32 693.34 196.99 693.31 C198.66 693.29 200.32 693.27 201.99 693.26 C203.66 693.24 205.32 693.23 206.99 693.21 C208.66 693.20 210.32 693.19 211.99 693.19 C213.66 693.18 215.32 693.18 216.99 693.19 C218.66 693.19 220.32 693.20 221.99 693.22 C223.66 693.24 225.32 693.26 226.99 693.29 C228.66 693.32 230.32 693.35 231.99 693.39 C233.66 693.43 235.32 693.48 236.99 693.52 C238.65 693.57 240.32 693.63 241.98 693.68 C243.65 693.74 245.32 693.80 246.98 693.85 C248.65 693.91 250.31 693.97 251.98 694.03 C253.64 694.09 255.31 694.15 256.98 694.20 C258.64 694.26 260.31 694.31 261.97 694.36 C263.64 694.42 265.30 694.47 266.97 694.53 C268.64 694.58 270.30 694.64 271.97 694.70 C273.63 694.76 275.30 694.82 276.96 694.88 C278.63 694.94 280.30 695.00 281.96 695.05 C283.63 695.11 285.29 695.16 286.96 695.21 C288.62 695.26 290.29 695.31 291.96 695.35 C293.62 695.40 295.29 695.44 296.96 695.47 C298.62 695.51 300.29 695.55 301.95 695.58 C303.62 695.62 305.29 695.65 306.95 695.69 C308.62 695.72 310.29 695.76 311.95 695.79 C313.62 695.83 315.28 695.86 316.95 695.90 C318.62 695.94 320.28 695.98 321.95 696.02 C323.62 696.06 325.28 696.10 326.95 696.15 C328.61 696.19 330.28 696.24 331.95 696.30 C333.61 696.35 335.28 696.41 336.94 696.47 C338.61 696.54 340.27 696.61 341.94 696.69 C343.60 696.76 345.27 696.85 346.93 696.93 C348.60 697.02 350.26 697.11 351.92 697.20 C353.59 697.30 355.25 697.39 356.92 697.50 C358.58 697.61 360.24 697.72 361.90 697.84 C363.57 697.96 365.23 698.08 366.89 698.22 C368.55 698.36 370.21 698.50 371.87 698.66 C373.53 698.82 375.19 698.99 376.84 699.18 C378.50 699.37 380.15 699.57 381.80 699.80 C383.45 700.04 385.10 700.29 386.74 700.57 C388.39 700.84 390.03 701.14 391.66 701.46 C393.30 701.77 394.93 702.11 396.56 702.45 C398.20 702.79 399.83 703.14 401.45 703.50 C403.08 703.87 404.71 704.23 406.32 704.63 C407.94 705.03 409.55 705.45 411.16 705.91 C412.76 706.36 414.36 706.85 415.94 707.36 C417.53 707.87 419.11 708.40 420.68 708.97 C422.24 709.55 423.80 710.14 425.33 710.80 C426.86 711.46 428.36 712.18 429.83 712.95 C431.31 713.73 432.74 714.58 434.15 715.46 C435.57 716.34 436.95 717.28 438.32 718.23 C439.69 719.18 441.04 720.16 442.38 721.16 C443.71 722.15 445.06 723.14 446.34 724.20 C447.62 725.27 448.88 726.37 450.04 727.56 C451.20 728.75 452.30 730.02 453.30 731.34 C454.30 732.67 455.19 734.09 456.05 735.51 C456.90 736.94 457.54 738.51 458.43 739.91 C459.31 741.31 460.30 742.65 461.37 743.90 C462.44 745.15 463.94 746.07 464.86 747.41 C465.78 748.76 466.29 750.41 466.89 751.96 C467.49 753.50 467.94 755.12 468.48 756.70 C469.01 758.28 469.56 759.85 470.10 761.43 C470.64 763.01 471.17 764.59 471.69 766.17 C472.21 767.75 472.73 769.34 473.24 770.92 C473.76 772.51 474.27 774.09 474.77 775.68 C475.28 777.27 475.80 778.85 476.26 780.45 C476.72 782.05 477.16 783.66 477.56 785.28 C477.96 786.90 478.30 788.53 478.64 790.16 C478.98 791.79 479.29 793.43 479.62 795.07 C479.96 796.70 480.29 798.33 480.67 799.95 C481.05 801.58 481.45 803.19 481.89 804.80 C482.32 806.41 482.80 808.01 483.27 809.61 C483.74 811.21 484.23 812.80 484.69 814.40 C485.15 816.00 485.61 817.60 486.03 819.22 C486.45 820.83 486.84 822.45 487.22 824.07 C487.61 825.69 487.96 827.32 488.32 828.95 C488.68 830.58 489.03 832.21 489.38 833.84 C489.73 835.47 490.08 837.10 490.43 838.72 C490.78 840.35 491.14 841.98 491.50 843.61 C491.86 845.24 492.22 846.86 492.58 848.49 C492.95 850.12 493.31 851.74 493.67 853.37 C494.04 855.00 494.40 856.62 494.76 858.25 C495.12 859.88 495.48 861.50 495.84 863.13 C496.20 864.76 496.56 866.39 496.92 868.02 C497.27 869.64 497.63 871.27 497.98 872.90 C498.34 874.53 498.69 876.16 499.03 877.79 C499.37 879.42 499.71 881.05 500.03 882.69 C500.36 884.32 500.67 885.96 500.99 887.60 C501.30 889.23 501.60 890.87 501.91 892.51 C502.21 894.15 502.51 895.79 502.81 897.43 C503.12 899.07 503.42 900.71 503.73 902.34 C504.03 903.98 504.34 905.62 504.65 907.26 C504.97 908.89 505.28 910.53 505.59 912.17 C505.90 913.81 506.21 915.44 506.51 917.08 C506.82 918.72 507.12 920.36 507.41 922.00 C507.70 923.64 507.98 925.28 508.26 926.93 C508.54 928.57 508.82 930.21 509.09 931.86 C509.36 933.50 509.63 935.15 509.90 936.79 C510.17 938.44 510.44 940.08 510.71 941.73 C510.98 943.37 511.25 945.02 511.52 946.66 C511.79 948.30 512.06 949.95 512.33 951.59 C512.60 953.24 512.86 954.88 513.14 956.53 C513.41 958.17 513.68 959.82 513.96 961.46 C514.24 963.10 514.53 964.74 514.82 966.39 C515.10 968.03 515.39 969.67 515.69 971.31 C515.98 972.95 516.27 974.59 516.56 976.23 C516.86 977.87 517.15 979.51 517.46 981.15 C517.78 982.79 518.08 984.43 518.43 986.06 C518.78 987.69 519.14 989.32 519.57 990.92 C520.00 992.53 520.48 994.13 520.99 995.71 C521.50 997.30 522.08 998.86 522.62 1000.44 C523.16 1002.01 523.71 1003.59 524.24 1005.17 C524.77 1006.75 525.27 1008.34 525.78 1009.92 C526.29 1011.51 526.79 1013.10 527.29 1014.69 C527.79 1016.28 528.29 1017.87 528.80 1019.46 C529.31 1021.05 529.81 1022.64 530.35 1024.21 C530.89 1025.79 531.44 1027.37 532.04 1028.92 C532.64 1030.48 533.27 1032.02 533.97 1033.54 C534.67 1035.06 535.41 1036.57 536.23 1038.06 C537.05 1039.54 537.90 1041.11 538.89 1042.47 C539.87 1043.84 540.94 1045.40 542.12 1046.24 C543.30 1047.09 544.74 1047.71 545.97 1047.55 C547.20 1047.39 548.51 1046.41 549.50 1045.30 C550.49 1044.19 551.24 1042.45 551.90 1040.90 C552.55 1039.35 552.98 1037.63 553.42 1035.99 C553.87 1034.35 554.22 1032.71 554.56 1031.07 C554.90 1029.42 555.20 1027.78 555.48 1026.14 C555.77 1024.50 556.01 1022.85 556.25 1021.20 C556.50 1019.55 556.72 1017.90 556.94 1016.25 C557.17 1014.59 557.39 1012.94 557.61 1011.29 C557.83 1009.64 558.04 1007.98 558.24 1006.33 C558.44 1004.67 558.63 1003.02 558.81 1001.36 C558.98 999.70 559.13 998.04 559.29 996.39 C559.46 994.73 559.61 993.07 559.77 991.41 C559.93 989.75 560.10 988.09 560.27 986.43 C560.45 984.78 560.62 983.12 560.80 981.46 C560.98 979.80 561.16 978.15 561.34 976.49 C561.52 974.83 561.70 973.18 561.88 971.52 C562.07 969.86 562.25 968.21 562.44 966.55 C562.63 964.90 562.82 963.24 563.01 961.58 C563.20 959.93 563.40 958.27 563.59 956.62 C563.79 954.96 563.99 953.31 564.19 951.65 C564.39 950.00 564.59 948.35 564.79 946.69 C564.99 945.04 565.19 943.38 565.39 941.73 C565.58 940.07 565.77 938.42 565.97 936.76 C566.17 935.11 566.37 933.45 566.58 931.80 C566.79 930.14 567.01 928.49 567.24 926.84 C567.47 925.19 567.72 923.54 567.97 921.90 C568.22 920.25 568.49 918.60 568.76 916.96 C569.03 915.31 569.31 913.67 569.59 912.03 C569.87 910.38 570.15 908.74 570.44 907.10 C570.72 905.46 571.02 903.82 571.32 902.18 C571.63 900.54 571.95 898.90 572.27 897.27 C572.59 895.63 572.94 894.00 573.26 892.37 C573.58 890.73 573.91 889.10 574.19 887.46 C574.48 885.82 574.75 884.17 574.98 882.52 C575.22 880.87 575.42 879.22 575.61 877.56 C575.80 875.91 575.97 874.25 576.13 872.59 C576.30 870.93 576.44 869.27 576.59 867.61 C576.75 865.95 576.89 864.29 577.04 862.63 C577.19 860.97 577.34 859.31 577.49 857.65 C577.64 855.99 577.80 854.33 577.95 852.67 C578.10 851.01 578.26 849.35 578.41 847.69 C578.56 846.03 578.71 844.37 578.85 842.71 C579.00 841.05 579.14 839.39 579.28 837.73 C579.42 836.07 579.56 834.41 579.70 832.75 C579.83 831.09 579.97 829.42 580.08 827.76 C580.19 826.10 580.29 824.44 580.38 822.77 C580.46 821.11 580.52 819.44 580.57 817.78 C580.63 816.11 580.66 814.44 580.70 812.78 C580.73 811.11 580.76 809.44 580.79 807.78 C580.82 806.11 580.85 804.44 580.88 802.78 C580.92 801.11 580.95 799.45 580.99 797.78 C581.04 796.11 581.08 794.45 581.14 792.78 C581.21 791.12 581.28 789.45 581.36 787.79 C581.44 786.12 581.54 784.46 581.64 782.79 C581.75 781.13 581.86 779.47 581.98 777.81 C582.10 776.14 582.23 774.48 582.36 772.82 C582.49 771.16 582.63 769.50 582.76 767.84 C582.89 766.18 583.03 764.51 583.17 762.85 C583.30 761.19 583.43 759.53 583.57 757.87 C583.72 756.21 583.86 754.55 584.03 752.89 C584.20 751.23 584.37 749.57 584.59 747.92 C584.81 746.27 585.06 744.62 585.34 742.98 C585.62 741.34 585.93 739.70 586.28 738.07 C586.63 736.44 587.00 734.81 587.42 733.20 C587.84 731.59 588.28 729.98 588.77 728.38 C589.27 726.79 589.80 725.21 590.40 723.66 C591.01 722.11 591.66 720.57 592.40 719.07 C593.13 717.58 593.92 716.10 594.80 714.69 C595.67 713.27 596.60 711.87 597.63 710.57 C598.66 709.26 599.76 708.00 600.96 706.86 C602.16 705.72 603.46 704.67 604.81 703.71 C606.16 702.74 607.61 701.89 609.07 701.08 C610.52 700.27 612.03 699.53 613.55 698.85 C615.07 698.17 616.62 697.55 618.20 697.03 C619.78 696.50 621.39 696.07 623.01 695.70 C624.63 695.33 626.28 695.06 627.93 694.81 C629.58 694.56 631.24 694.38 632.90 694.21 C634.55 694.03 636.21 693.89 637.88 693.74 C639.54 693.60 641.20 693.45 642.86 693.33 C644.52 693.21 646.18 693.08 647.85 693.00 C649.51 692.91 651.18 692.86 652.84 692.81 C654.51 692.77 656.18 692.76 657.84 692.74 C659.51 692.72 661.18 692.72 662.84 692.71 C664.51 692.70 666.18 692.69 667.84 692.69 C669.51 692.69 671.18 692.69 672.84 692.69 C674.51 692.69 676.18 692.69 677.84 692.70 C679.51 692.70 681.18 692.71 682.84 692.72 C684.51 692.72 686.18 692.73 687.84 692.74 C689.51 692.75 691.18 692.76 692.84 692.77 C694.51 692.78 696.18 692.79 697.84 692.80 C699.51 692.81 701.18 692.82 702.84 692.83 C704.51 692.84 706.18 692.85 707.84 692.86 C709.51 692.87 711.17 692.88 712.84 692.88 C714.51 692.89 716.17 692.90 717.84 692.91 C719.51 692.92 721.17 692.93 722.84 692.93 C724.51 692.94 726.17 692.95 727.84 692.95 C729.51 692.96 731.17 692.97 732.84 692.97 C734.51 692.98 736.17 692.98 737.84 692.99 C739.51 692.99 741.17 692.99 742.84 693.00 C744.51 693.00 746.17 693.00 747.84 693.00 C749.51 693.01 751.17 693.01 752.84 693.01 C754.51 693.01 756.17 693.01 757.84 693.01 C759.51 693.01 761.17 693.01 762.84 693.01 C764.51 693.00 766.17 693.00 767.84 693.00 C769.51 693.00 771.17 692.99 772.84 692.99 C774.51 692.99 776.17 692.98 777.84 692.98 C779.51 692.98 781.17 692.97 782.84 692.97 C784.51 692.96 786.17 692.96 787.84 692.95 C789.51 692.95 791.17 692.94 792.84 692.94 C794.51 692.93 796.17 692.93 797.84 692.92 C799.51 692.92 801.17 692.91 802.84 692.90 C804.51 692.90 806.17 692.89 807.84 692.89 C809.51 692.88 811.17 692.88 812.84 692.87 C814.51 692.86 816.17 692.86 817.84 692.85 C819.51 692.84 821.17 692.84 822.84 692.83 C824.51 692.83 826.17 692.82 827.84 692.81 C829.51 692.81 831.17 692.80 832.84 692.79 C834.51 692.79 836.17 692.78 837.84 692.77 C839.51 692.77 841.17 692.76 842.84 692.75 C844.51 692.75 846.17 692.74 847.84 692.73 C849.51 692.72 851.17 692.72 852.84 692.71 C854.51 692.70 856.17 692.70 857.84 692.69 C859.51 692.68 861.17 692.67 862.84 692.67 C864.51 692.66 866.17 692.65 867.84 692.65 C869.51 692.64 871.17 692.63 872.84 692.62 C874.51 692.62 876.17 692.61 877.84 692.60 C879.51 692.59 881.17 692.59 882.84 692.58 C884.51 692.57 886.17 692.57 887.84 692.56 C889.51 692.55 891.17 692.54 892.84 692.54 C894.51 692.53 896.17 692.52 897.84 692.51 C899.51 692.51 901.17 692.50 902.84 692.49 C904.51 692.48 906.17 692.47 907.84 692.47 C909.51 692.46 911.17 692.45 912.84 692.44 C914.51 692.44 916.17 692.43 917.84 692.42 C919.51 692.41 921.17 692.41 922.84 692.40 C924.51 692.39 926.17 692.38 927.84 692.38 C929.51 692.37 931.17 692.36 932.84 692.35 C934.51 692.35 936.17 692.34 937.84 692.33 C939.51 692.32 941.17 692.31 942.84 692.31 C944.51 692.30 946.17 692.29 947.84 692.28 C949.51 692.28 951.17 692.27 952.84 692.26 C954.51 692.25 956.17 692.25 957.84 692.24 C959.51 692.23 961.26 692.23 962.84 692.22 C964.42 692.21 966.56 692.20 967.30 692.20" fill="none" stroke="#be4b48" stroke-width="5.0" stroke-linejoin="round" stroke-linecap="butt"/>
<text x="82.65" y="699.60" font-family="'Liberation Sans', sans-serif" font-size="29.90px" font-weight="normal" text-anchor="start" textLength="15.99" lengthAdjust="spacingAndGlyphs">0</text>
<text x="72.68" y="791.30" font-family="'Liberation Sans', sans-serif" font-size="29.90px" font-weight="normal" text-anchor="start" textLength="26.07" lengthAdjust="spacingAndGlyphs">-5</text>
<text x="56.38" y="883.00" font-family="'Liberation Sans', sans-serif" font-size="29.90px" font-weight="normal" text-anchor="start" textLength="42.25" lengthAdjust="spacingAndGlyphs">-10</text>
<text x="56.38" y="974.70" font-family="'Liberation Sans', sans-serif" font-size="29.90px" font-weight="normal" text-anchor="start" textLength="42.41" lengthAdjust="spacingAndGlyphs">-15</text>
<text x="56.38" y="1066.40" font-family="'Liberation Sans', sans-serif" font-size="29.90px" font-weight="normal" text-anchor="start" textLength="42.25" lengthAdjust="spacingAndGlyphs">-20</text>
<text x="56.38" y="1158.10" font-family="'Liberation Sans', sans-serif" font-size="29.90px" font-weight="normal" text-anchor="start" textLength="42.41" lengthAdjust="spacingAndGlyphs">-25</text>
<text x="102.38" y="741.30" font-family="'Liberation Sans', sans-serif" font-size="29.90px" font-weight="normal" text-anchor="start" textLength="49.36" lengthAdjust="spacingAndGlyphs">100</text>
<text x="270.49" y="741.30" font-family="'Liberation Sans', sans-serif" font-size="29.90px" font-weight="normal" text-anchor="start" textLength="48.58" lengthAdjust="spacingAndGlyphs">200</text>
<text x="438.14" y="741.30" font-family="'Liberation Sans', sans-serif" font-size="29.90px" font-weight="normal" text-anchor="start" textLength="48.27" lengthAdjust="spacingAndGlyphs">300</text>
<text x="606.08" y="741.30" font-family="'Liberation Sans', sans-serif" font-size="29.90px" font-weight="normal" text-anchor="start" textLength="47.67" lengthAdjust="spacingAndGlyphs">400</text>
<text x="772.84" y="741.30" font-family="'Liberation Sans', sans-serif" font-size="29.90px" font-weight="normal" text-anchor="start" textLength="48.27" lengthAdjust="spacingAndGlyphs">500</text>
<text x="939.89" y="741.30" font-family="'Liberation Sans', sans-serif" font-size="29.90px" font-weight="normal" text-anchor="start" textLength="48.58" lengthAdjust="spacingAndGlyphs">600</text>
<text x="416.22" y="672.40" font-family="'Liberation Sans', sans-serif" font-size="29.80px" font-weight="bold" text-anchor="start" textLength="187.16" lengthAdjust="spacingAndGlyphs">Temperature (</text>
<text x="611.19" y="663.90" font-family="'Liberation Sans', sans-serif" font-size="19.00px" font-weight="bold" text-anchor="start" textLength="12.39" lengthAdjust="spacingAndGlyphs">o</text>
<text x="623.55" y="672.40" font-family="'Liberation Sans', sans-serif" font-size="29.80px" font-weight="bold" text-anchor="start" textLength="24.93" lengthAdjust="spacingAndGlyphs">C)</text>
<g transform="translate(41.8 1092.9) rotate(-90)"><text x="-1.84" y="0.00" font-family="'Liberation Sans', sans-serif" font-size="29.80px" font-weight="bold" text-anchor="start" textLength="347.77" lengthAdjust="spacingAndGlyphs">Derivative Weight (%/min)</text></g>
<text x="28.41" y="673.00" font-family="'Liberation Serif', sans-serif" font-size="44.50px" font-weight="normal" text-anchor="start" textLength="54.26" lengthAdjust="spacingAndGlyphs">(b)</text>
<g fill="none" stroke-width="5" stroke-linecap="round">
<path d="M586.8 1097.5 H647.5" stroke="#4a7ebb"/>
<path d="M586.8 1138.8 H647.5" stroke="#be4b48"/>
</g>
<text x="653.61" y="1106.50" font-family="'Liberation Sans', sans-serif" font-size="29.90px" font-weight="normal" text-anchor="start" textLength="144.33" lengthAdjust="spacingAndGlyphs">PLA/10PEG</text>
<text x="653.61" y="1147.80" font-family="'Liberation Sans', sans-serif" font-size="29.90px" font-weight="normal" text-anchor="start" textLength="144.13" lengthAdjust="spacingAndGlyphs">PLA/10PEG</text>
<text x="798.22" y="1147.80" font-family="'Liberation Sans', sans-serif" font-size="29.90px" font-weight="normal" text-anchor="start" textLength="106.83" lengthAdjust="spacingAndGlyphs">/0.5wt%</text>
<text x="912.61" y="1147.80" font-family="'Liberation Sans', sans-serif" font-size="29.90px" font-weight="normal" text-anchor="start" textLength="65.63" lengthAdjust="spacingAndGlyphs">xGnP</text>
</svg></body></html>
